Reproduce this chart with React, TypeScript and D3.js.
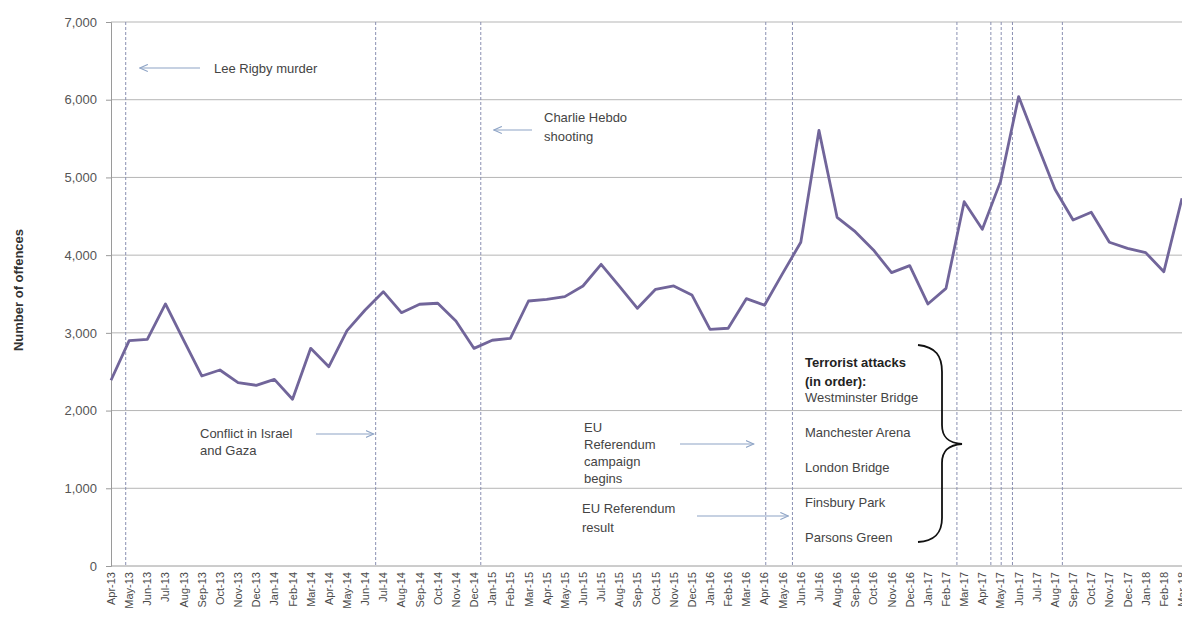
import { useEffect, useRef } from "react";
import * as d3 from "d3";

const months = [
  "Apr-13", "May-13", "Jun-13", "Jul-13", "Aug-13", "Sep-13", "Oct-13", "Nov-13", "Dec-13",
  "Jan-14", "Feb-14", "Mar-14", "Apr-14", "May-14", "Jun-14", "Jul-14", "Aug-14", "Sep-14",
  "Oct-14", "Nov-14", "Dec-14", "Jan-15", "Feb-15", "Mar-15", "Apr-15", "May-15", "Jun-15",
  "Jul-15", "Aug-15", "Sep-15", "Oct-15", "Nov-15", "Dec-15", "Jan-16", "Feb-16", "Mar-16",
  "Apr-16", "May-16", "Jun-16", "Jul-16", "Aug-16", "Sep-16", "Oct-16", "Nov-16", "Dec-16",
  "Jan-17", "Feb-17", "Mar-17", "Apr-17", "May-17", "Jun-17", "Jul-17", "Aug-17", "Sep-17",
  "Oct-17", "Nov-17", "Dec-17", "Jan-18", "Feb-18", "Mar-18",
];

const offences = [
  2390, 2900, 2917, 3372, 2905, 2445, 2522, 2359, 2325,
  2402, 2145, 2801, 2565, 3028, 3294, 3530, 3260, 3368,
  3381, 3153, 2800, 2905, 2930, 3410, 3432, 3466, 3603,
  3882, 3600, 3316, 3560, 3603, 3488, 3046, 3059, 3440,
  3355, 3766, 4165, 5605, 4487, 4302, 4067, 3775, 3865,
  3372, 3573, 4688, 4333, 4946, 6040, 5440, 4848, 4453,
  4552, 4166, 4088, 4032, 3787, 4732,
];

const yTicks = [0, 1000, 2000, 3000, 4000, 5000, 6000, 7000];

// event dates as fractional month index from Apr-13
const eventPositions = [0.81, 14.58, 20.37, 36.07, 37.54, 46.6, 48.47, 49.04, 49.66, 52.41];

const attackNames = [
  "Westminster Bridge",
  "Manchester Arena",
  "London Bridge",
  "Finsbury Park",
  "Parsons Green",
];

const W = 1182;
const H = 625;
const font = "'Liberation Sans', Arial, sans-serif";

export default function App() {
  const svgRef = useRef<SVGSVGElement | null>(null);

  useEffect(() => {
    if (!svgRef.current) return;
    const svg = d3.select(svgRef.current);
    svg.selectAll("*").remove();

    const left = 111;
    const right = 1182;
    const top = 22;
    const bottom = 566;

    const x = d3.scaleLinear().domain([0, months.length - 1]).range([left, right]);
    const y = d3.scaleLinear().domain([0, 7000]).range([bottom, top]);

    const defs = svg.append("defs");
    defs
      .append("marker")
      .attr("id", "arrow")
      .attr("viewBox", "0 0 10 10")
      .attr("refX", 9)
      .attr("refY", 5)
      .attr("markerWidth", 9)
      .attr("markerHeight", 9)
      .attr("markerUnits", "userSpaceOnUse")
      .attr("orient", "auto")
      .append("path")
      .attr("d", "M0,1 L9,5 L0,9")
      .attr("fill", "none")
      .attr("stroke", "#8ea4c6")
      .attr("stroke-width", 1.2);

    // gridlines
    svg
      .append("g")
      .selectAll("line")
      .data(yTicks.filter((d) => d > 0))
      .join("line")
      .attr("x1", left)
      .attr("x2", right)
      .attr("y1", (d) => y(d))
      .attr("y2", (d) => y(d))
      .attr("stroke", "#b5b5b5")
      .attr("stroke-width", 1);

    // y axis
    const yAxis = svg
      .append("g")
      .attr("transform", `translate(${left},0)`)
      .call(
        d3
          .axisLeft(y)
          .tickValues(yTicks)
          .tickSize(5)
          .tickPadding(9)
          .tickFormat((d) => d3.format(",")(d as number))
      );
    yAxis.select(".domain").attr("stroke", "#9a9a9a");
    yAxis.selectAll(".tick line").attr("stroke", "#9a9a9a");
    yAxis
      .selectAll(".tick text")
      .attr("font-family", font)
      .attr("font-size", 13)
      .attr("fill", "#555");

    // x axis
    svg
      .append("line")
      .attr("x1", left)
      .attr("x2", right)
      .attr("y1", bottom)
      .attr("y2", bottom)
      .attr("stroke", "#9a9a9a");

    svg
      .append("g")
      .selectAll("text")
      .data(months)
      .join("text")
      .attr("transform", (_, i) => `translate(${x(i) + 4},${bottom + 6}) rotate(-90)`)
      .attr("text-anchor", "end")
      .attr("font-family", font)
      .attr("font-size", 11)
      .attr("fill", "#4a4a4a")
      .text((d) => d);

    // event lines
    svg
      .append("g")
      .selectAll("line")
      .data(eventPositions)
      .join("line")
      .attr("x1", (d) => x(d))
      .attr("x2", (d) => x(d))
      .attr("y1", top)
      .attr("y2", bottom)
      .attr("stroke", "#8a90b2")
      .attr("stroke-width", 1)
      .attr("stroke-dasharray", "3,2");

    // data line
    const line = d3
      .line<number>()
      .x((_, i) => x(i))
      .y((d) => y(d));
    svg
      .append("path")
      .datum(offences)
      .attr("d", line)
      .attr("fill", "none")
      .attr("stroke", "#71659a")
      .attr("stroke-width", 2.8)
      .attr("stroke-linejoin", "round");

    // y label
    svg
      .append("text")
      .attr("transform", `translate(23,290) rotate(-90)`)
      .attr("text-anchor", "middle")
      .attr("font-family", font)
      .attr("font-size", 13)
      .attr("font-weight", 700)
      .attr("fill", "#333")
      .text("Number of offences");

    const label = (tx: number, ty: number, lines: string[], gap = 17) => {
      const t = svg
        .append("text")
        .attr("font-family", font)
        .attr("font-size", 13)
        .attr("fill", "#444");
      lines.forEach((s, i) => {
        t.append("tspan").attr("x", tx).attr("y", ty + i * gap).text(s);
      });
    };
    const arrow = (x1: number, y1: number, x2: number, y2: number) => {
      svg
        .append("line")
        .attr("x1", x1)
        .attr("y1", y1)
        .attr("x2", x2)
        .attr("y2", y2)
        .attr("stroke", "#8ea4c6")
        .attr("stroke-width", 1.2)
        .attr("marker-end", "url(#arrow)");
    };

    label(214, 73, ["Lee Rigby murder"]);
    arrow(200, 68, x(eventPositions[0]) + 14, 68);

    label(544, 122, ["Charlie Hebdo", "shooting"], 19);
    arrow(532, 130, x(eventPositions[2]) + 13, 130);

    label(200, 438, ["Conflict in Israel", "and Gaza"]);
    arrow(316, 434, x(eventPositions[1]) - 2, 434);

    label(584, 432, ["EU", "Referendum", "campaign", "begins"]);
    arrow(680, 444, x(eventPositions[3]) - 12, 444);

    label(582, 513, ["EU Referendum", "result"], 19);
    arrow(697, 516, x(eventPositions[4]) - 4, 516);

    // terrorist attacks list
    const ta = svg
      .append("text")
      .attr("font-family", font)
      .attr("font-size", 13)
      .attr("font-weight", 700)
      .attr("fill", "#222");
    ta.append("tspan").attr("x", 805).attr("y", 367).text("Terrorist attacks");
    ta.append("tspan").attr("x", 805).attr("y", 386).text("(in order):");

    svg
      .append("g")
      .selectAll("text")
      .data(attackNames)
      .join("text")
      .attr("x", 805)
      .attr("y", (_, i) => 402 + i * 35)
      .attr("font-family", font)
      .attr("font-size", 13)
      .attr("fill", "#444")
      .text((d) => d);

    // curly brace
    svg
      .append("path")
      .attr(
        "d",
        "M918,345 C936,347 942,356 942,372 L942,425 C942,437 948,443 962,444 C948,445 942,451 942,463 L942,518 C942,534 934,541 918,542"
      )
      .attr("fill", "none")
      .attr("stroke", "#111")
      .attr("stroke-width", 1.8);
  }, []);

  return (
    <>
      <style>{`body{margin:0;background:#fff}`}</style>
      <svg ref={svgRef} width={W} height={H} style={{ display: "block" }} />
    </>
  );
}
